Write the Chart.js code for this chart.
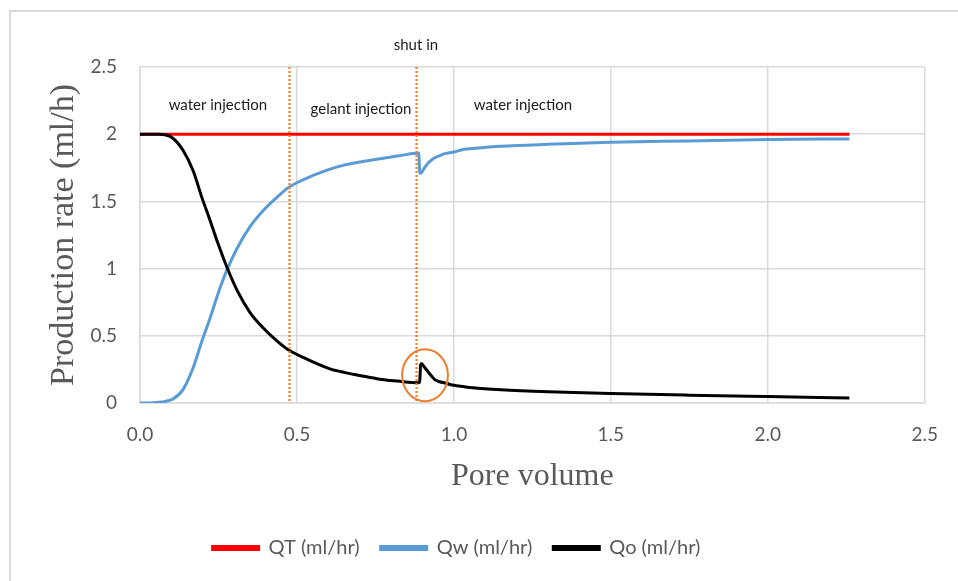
<!DOCTYPE html>
<html>
<head>
<meta charset="utf-8">
<script src="https://cdn.jsdelivr.net/npm/chart.js@4.4.1/dist/chart.umd.min.js"></script>
<style>
  html, body { margin: 0; padding: 0; background: #fff; }
  #wrap { width: 958px; height: 581px; position: relative; }
</style>
</head>
<body>
<div id="wrap"><canvas id="c" width="958" height="581"></canvas></div>
<script>
// ---- data ----
const seriesNames = ['QT (ml/hr)', 'Qw (ml/hr)', 'Qo (ml/hr)'];
const xTickLabels = ['0.0', '0.5', '1.0', '1.5', '2.0', '2.5'];
const yTickLabels = ['0', '0.5', '1', '1.5', '2', '2.5'];

const qtPv = [0, 2.26];
const qt   = [2.0, 2.0];

const pv = [0, 0.03, 0.06, 0.08, 0.105, 0.137, 0.169, 0.197, 0.223, 0.248, 0.277, 0.309, 0.35, 0.392,
            0.436, 0.471, 0.519, 0.605, 0.65, 0.7, 0.764, 0.82, 0.888, 0.891, 0.894, 0.897, 0.905, 0.918,
            0.93, 0.939, 0.955, 0.971, 0.985, 1.0, 1.03, 1.06, 1.15, 1.3, 1.5, 1.75, 2.0, 2.26];
const qw = [0, 0, 0.005, 0.012, 0.03, 0.1, 0.26, 0.46, 0.63, 0.81, 0.99, 1.15, 1.31, 1.43,
            1.53, 1.60, 1.66, 1.74, 1.77, 1.793, 1.818, 1.837, 1.86, 1.72, 1.71, 1.715, 1.745, 1.785,
            1.81, 1.825, 1.84, 1.855, 1.862, 1.868, 1.886, 1.893, 1.91, 1.925, 1.94, 1.95, 1.96, 1.965];
const qo = [2.0, 2.0, 2.0, 1.995, 1.97, 1.88, 1.73, 1.53, 1.36, 1.19, 1.01, 0.84, 0.675, 0.56,
            0.462, 0.398, 0.34, 0.254, 0.228, 0.205, 0.177, 0.163, 0.15, 0.16, 0.28, 0.293, 0.27, 0.231,
            0.197, 0.174, 0.158, 0.149, 0.14, 0.132, 0.122, 0.113, 0.098, 0.083, 0.07, 0.058, 0.048, 0.038];

// phase annotations (data coordinates)
const phaseBoundaries = [0.475, 0.879];
const phaseLabels = ['water injection', 'gelant injection', 'water injection'];
const phaseLabelX = [0.248, 0.704, 1.22];
const phaseLabelY = [2.215, 2.19, 2.215];
const shutInLabel = 'shut in';
const shutInPos = {x: 0.879, y: 2.66};
const circlePos = {x: 0.908, y: 0.206, rx: 0.073, ry: 0.193};

// ---- styling ----
const ORANGE = '#ED7D31';
const GRID = '#D9D9D9';
const TXT = '#595959';

const toXY = (xs, ys) => xs.map((x, i) => ({x: x, y: ys[i]}));

const annotPlugin = {
  id: 'annot',
  beforeDraw(chart) {
    const {ctx, width, height} = chart;
    ctx.save();
    ctx.fillStyle = '#fff';
    ctx.fillRect(0, 0, width, height);
    ctx.strokeStyle = GRID;
    ctx.lineWidth = 2;
    ctx.beginPath();
    ctx.moveTo(10, height);
    ctx.lineTo(10, 11);
    ctx.lineTo(width, 11);
    ctx.stroke();
    ctx.restore();
  },
  afterLayout(chart) {
    const L = chart.legend;
    if (L) { L.left -= 6; L.right -= 6; }
  },
  afterDatasetsDraw(chart) {
    const {ctx} = chart;
    const xs = chart.scales.x, ys = chart.scales.y;
    ctx.save();
    // dotted boundaries
    ctx.strokeStyle = ORANGE;
    ctx.lineWidth = 2.2;
    ctx.setLineDash([2, 2]);
    phaseBoundaries.forEach(b => {
      const px = Math.round(xs.getPixelForValue(b)) + 0.5;
      ctx.beginPath();
      ctx.moveTo(px, ys.getPixelForValue(2.5));
      ctx.lineTo(px, ys.getPixelForValue(0));
      ctx.stroke();
    });
    ctx.setLineDash([]);
    // circle
    const cx = xs.getPixelForValue(circlePos.x), cy = ys.getPixelForValue(circlePos.y);
    const rx = xs.getPixelForValue(circlePos.x + circlePos.rx) - cx;
    const ry = cy - ys.getPixelForValue(circlePos.y + circlePos.ry);
    ctx.lineWidth = 2;
    ctx.beginPath();
    ctx.ellipse(cx, cy, rx, ry, 0, 0, Math.PI * 2);
    ctx.stroke();
    // texts
    ctx.fillStyle = '#1a1a1a';
    ctx.font = '15px Lato';
    ctx.textAlign = 'center';
    ctx.textBaseline = 'middle';
    phaseLabels.forEach((t, i) => {
      ctx.fillText(t, xs.getPixelForValue(phaseLabelX[i]), ys.getPixelForValue(phaseLabelY[i]));
    });
    ctx.fillText(shutInLabel, xs.getPixelForValue(shutInPos.x), ys.getPixelForValue(shutInPos.y));
    ctx.restore();
  }
};

const PAD_B = 13;

new Chart(document.getElementById('c'), {
  type: 'line',
  data: {
    datasets: [
      { label: seriesNames[0], data: toXY(qtPv, qt), borderColor: '#FF0000', backgroundColor: '#FF0000',
        borderWidth: 3, pointRadius: 0, order: 1 },
      { label: seriesNames[1], data: toXY(pv, qw), borderColor: '#5B9BD5', backgroundColor: '#5B9BD5',
        borderWidth: 3, pointRadius: 0, cubicInterpolationMode: 'monotone', order: 2 },
      { label: seriesNames[2], data: toXY(pv, qo), borderColor: '#000000', backgroundColor: '#000000',
        borderWidth: 3, pointRadius: 0, cubicInterpolationMode: 'monotone', order: 0 }
    ]
  },
  options: {
    responsive: false,
    animation: false,
    devicePixelRatio: 1,
    layout: { padding: { left: 0, right: 33, top: 67, bottom: PAD_B } },
    plugins: {
      tooltip: { enabled: false },
      legend: {
        position: 'bottom',
        labels: {
          boxWidth: 46, boxHeight: 3, padding: 21,
          color: TXT, font: { family: 'Lato', size: 20 },
          sort: (a, b) => a.datasetIndex - b.datasetIndex
        }
      }
    },
    scales: {
      x: {
        type: 'linear', min: 0, max: 2.5,
        afterFit: (s) => { const lh = s.chart.legend ? s.chart.legend.height : 0; s.height = 581 - PAD_B - lh - 403; },
        afterBuildTicks: (s) => { s.ticks = xTickLabels.map(t => ({value: parseFloat(t)})); },
        ticks: { padding: 20, color: TXT, font: { family: 'Lato', size: 19 }, maxRotation: 0,
                 callback: (v, i) => xTickLabels[i] },
        grid: { color: GRID, lineWidth: 1.5, drawTicks: false, tickLength: 0 },
        border: { color: GRID, width: 1.5 },
        title: { display: true, text: 'Pore volume', color: TXT,
                 font: { family: 'Liberation Serif', size: 32 }, padding: { top: 0, bottom: 21 } }
      },
      y: {
        type: 'linear', min: 0, max: 2.5,
        afterFit: (s) => { s.width = 140; },
        afterBuildTicks: (s) => { s.ticks = yTickLabels.map(t => ({value: parseFloat(t)})); },
        ticks: { padding: 23, color: TXT, font: { family: 'Lato', size: 19 },
                 callback: (v, i) => yTickLabels[i] },
        grid: { color: GRID, lineWidth: 1.5, drawTicks: false, tickLength: 0 },
        border: { color: GRID, width: 1.5 },
        title: { display: true, text: 'Production rate (ml/h)', color: TXT,
                 font: { family: 'Liberation Serif', size: 34 }, padding: { top: 44, bottom: 0 } }
      }
    }
  },
  plugins: [annotPlugin]
});
</script>
</body>
</html>
